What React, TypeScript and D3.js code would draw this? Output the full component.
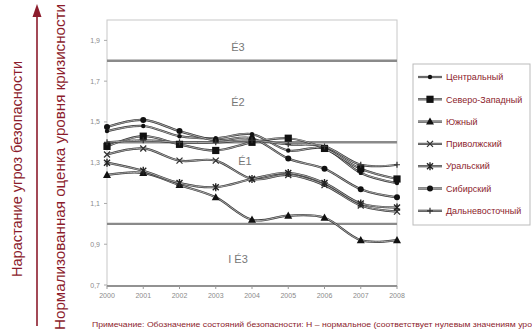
import React from "react";
import * as d3 from "d3";

const years = [2000, 2001, 2002, 2003, 2004, 2005, 2006, 2007, 2008];
const yTicks = [0.7, 0.9, 1.1, 1.3, 1.5, 1.7, 1.9];
const thresholds = [1.0, 1.4, 1.8];
const zoneLabels = ["É3", "É2", "É1", "I É3"];
const zoneValues = [1.87, 1.6, 1.31, 0.83];

const seriesNames = [
  "Центральный",
  "Северо-Западный",
  "Южный",
  "Приволжский",
  "Уральский",
  "Сибирский",
  "Дальневосточный",
];
const central = [1.455, 1.48, 1.43, 1.42, 1.44, 1.36, 1.37, 1.25, 1.2];
const northWest = [1.38, 1.43, 1.39, 1.36, 1.4, 1.42, 1.37, 1.27, 1.22];
const south = [1.24, 1.25, 1.19, 1.13, 1.02, 1.04, 1.03, 0.92, 0.92];
const volga = [1.34, 1.37, 1.31, 1.31, 1.22, 1.24, 1.19, 1.09, 1.06];
const ural = [1.3, 1.26, 1.2, 1.18, 1.22, 1.25, 1.2, 1.1, 1.08];
const siberia = [1.475, 1.51, 1.455, 1.41, 1.42, 1.32, 1.27, 1.17, 1.13];
const farEast = [1.4, 1.41, 1.4, 1.4, 1.41, 1.39, 1.38, 1.29, 1.29];
const seriesValues = [central, northWest, south, volga, ural, siberia, farEast];
const markerTypes = ["dot", "square", "triangle", "x", "star", "circle", "plus"];

const titleLeft = "Нарастание угроз безопасности";
const titleRight = "Нормализованная оценка уровня кризисности";
const note =
  "Примечание: Обозначение состояний безопасности: Н – нормальное (соответствует нулевым значениям уро";

const RED = "#8c1c2c";
const FONT = "Liberation Sans, Arial, sans-serif";

function Marker({ type, x, y }: { type: string; x: number; y: number }) {
  switch (type) {
    case "dot":
      return <circle cx={x} cy={y} r={2.2} fill="#111" />;
    case "circle":
      return <circle cx={x} cy={y} r={3} fill="#111" />;
    case "square":
      return <rect x={x - 3.6} y={y - 3.6} width={7.2} height={7.2} fill="#111" />;
    case "triangle":
      return (
        <path
          d={`M${x},${y - 4.2}L${x + 4},${y + 3}L${x - 4},${y + 3}Z`}
          fill="#111"
        />
      );
    case "x":
      return (
        <path
          d={`M${x - 3},${y - 3}L${x + 3},${y + 3}M${x - 3},${y + 3}L${x + 3},${y - 3}`}
          stroke="#333"
          strokeWidth={1.3}
        />
      );
    case "star":
      return (
        <path
          d={`M${x - 3},${y - 3}L${x + 3},${y + 3}M${x - 3},${y + 3}L${x + 3},${y - 3}M${x},${y - 4}L${x},${y + 4}`}
          stroke="#222"
          strokeWidth={1.4}
        />
      );
    case "plus":
      return (
        <path
          d={`M${x},${y - 3}L${x},${y + 3}M${x - 3},${y}L${x + 3},${y}`}
          stroke="#333"
          strokeWidth={1.2}
        />
      );
    default:
      return null;
  }
}

export default function App() {
  const left = 107;
  const right = 397;
  const top = 20;
  const bottom = 285;
  const x = d3.scalePoint<number>().domain(years).range([left, right]);
  const y = d3.scaleLinear().domain([0.7, 2.0]).range([bottom, top]);
  const line = d3
    .line<number>()
    .x((_, i) => x(years[i]) as number)
    .y((d) => y(d))
    .curve(d3.curveCardinal.tension(0));

  const legendX = 413;
  const legendY0 = 77;
  const legendStep = 22.3;

  return (
    <svg
      width={532}
      height={333}
      style={{ position: "absolute", left: 0, top: 0, background: "#fff" }}
      fontFamily={FONT}
    >
      {/* left titles */}
      <text
        transform={`translate(22,169) rotate(-90)`}
        textAnchor="middle"
        fontSize={14}
        fill={RED}
        textLength={216}
        lengthAdjust="spacingAndGlyphs"
      >
        {titleLeft}
      </text>
      <line x1={37} y1={326} x2={37} y2={16} stroke={RED} strokeWidth={1.6} />
      <path d="M37,4L41.5,17L32.5,17Z" fill={RED} />
      <text
        transform={`translate(65,167) rotate(-90)`}
        textAnchor="middle"
        fontSize={14}
        fill={RED}
        textLength={326}
        lengthAdjust="spacingAndGlyphs"
      >
        {titleRight}
      </text>

      {/* plot frame */}
      <rect
        x={left}
        y={top}
        width={right - left}
        height={bottom - top + 1}
        fill="#fff"
        stroke="#c8c8c8"
        strokeWidth={1}
      />

      {/* y ticks */}
      {yTicks.map((t) => (
        <g key={t}>
          <line x1={left - 3} x2={left} y1={y(t)} y2={y(t)} stroke="#aaa" />
          <text
            x={left - 7}
            y={y(t) + 2.5}
            textAnchor="end"
            fontSize={7}
            fill="#8a8a8a"
          >
            {t.toFixed(1).replace(".", ",")}
          </text>
        </g>
      ))}

      {/* threshold lines */}
      {thresholds.map((t) => (
        <line
          key={t}
          x1={left}
          x2={right}
          y1={y(t)}
          y2={y(t)}
          stroke="#8a8a8a"
          strokeWidth={2.4}
        />
      ))}

      {/* zone labels */}
      {zoneLabels.map((l, i) => (
        <text
          key={l}
          x={i === 2 ? 245 : 238}
          y={y(zoneValues[i]) + 4}
          textAnchor="middle"
          fontSize={11}
          fill="#777"
        >
          {l}
        </text>
      ))}

      {/* bottom axis */}
      <line x1={left} x2={right} y1={bottom + 1} y2={bottom + 1} stroke="#777" strokeWidth={1.4} />
      {years.map((yr) => (
        <g key={yr}>
          <line
            x1={x(yr)}
            x2={x(yr)}
            y1={bottom + 1}
            y2={bottom + 4}
            stroke="#999"
          />
          <text
            x={x(yr)}
            y={bottom + 13}
            textAnchor="middle"
            fontSize={7}
            fill="#8a8a8a"
          >
            {yr}
          </text>
        </g>
      ))}

      {/* series */}
      {seriesValues.map((vals, si) => (
        <g key={seriesNames[si]}>
          <path d={line(vals) || ""} fill="none" stroke="#3a3a3a" strokeWidth={2.2} />
          <path d={line(vals) || ""} fill="none" stroke="#c4c4c4" strokeWidth={0.8} />
        </g>
      ))}
      {seriesValues.map((vals, si) => (
        <g key={"m" + si}>
          {vals.map((v, i) => (
            <Marker key={i} type={markerTypes[si]} x={x(years[i]) as number} y={y(v)} />
          ))}
        </g>
      ))}

      {/* legend */}
      <rect
        x={legendX}
        y={64}
        width={117}
        height={161}
        fill="#fff"
        stroke="#bbb"
        strokeWidth={1}
      />
      {seriesNames.map((n, i) => {
        const ly = legendY0 + i * legendStep;
        return (
          <g key={n}>
            <line x1={418} x2={442} y1={ly} y2={ly} stroke="#3a3a3a" strokeWidth={2.2} />
            <line x1={418} x2={442} y1={ly} y2={ly} stroke="#c4c4c4" strokeWidth={0.7} />
            <Marker type={markerTypes[i]} x={430} y={ly} />
            <text x={446} y={ly + 3.2} fontSize={9} fill={RED}>
              {n}
            </text>
          </g>
        );
      })}

      {/* note */}
      <text x={92} y={327} fontSize={8} fill={RED} textLength={440} lengthAdjust="spacingAndGlyphs">
        {note}
      </text>
    </svg>
  );
}
